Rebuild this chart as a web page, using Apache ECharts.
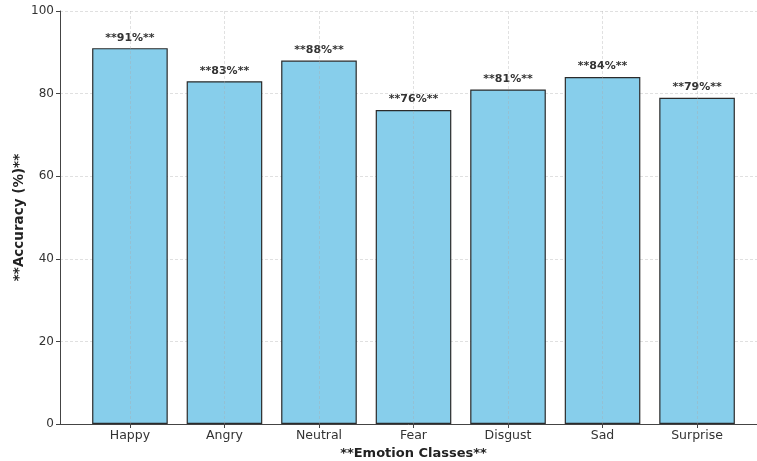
<!DOCTYPE html>
<html>
<head>
<meta charset="utf-8">
<script src="https://cdn.jsdelivr.net/npm/echarts@6/dist/echarts.min.js"></script>
<style>
  html, body { margin: 0; padding: 0; background: #fff; }
  #chart { width: 757px; height: 461px; }
</style>
</head>
<body>
<div id="chart"></div>
<script>
// Per-class recognition accuracy (%)
const categories = ['Happy', 'Angry', 'Neutral', 'Fear', 'Disgust', 'Sad', 'Surprise'];
const accuracy = [91, 83, 88, 76, 81, 84, 79];
const yTicks = [0, 20, 40, 60, 80, 100];

const positions = categories.map((_, i) => i);
const font = 'DejaVu Sans';

const chart = echarts.init(document.getElementById('chart'), null, { renderer: 'canvas' });
chart.setOption({
  animation: false,
  grid: { left: 60, top: 11, width: 707, height: 413, outerBoundsMode: 'none', containLabel: false },
  xAxis: {
    type: 'value',
    min: -0.74,
    max: 6.74,
    name: '**Emotion Classes**',
    nameLocation: 'middle',
    nameGap: 23,
    nameMoveOverlap: false,
    nameTextStyle: { fontFamily: font, fontSize: 13, fontWeight: 'bold', color: '#222' },
    axisLine: { show: true, onZero: false, lineStyle: { color: '#444', width: 1 } },
    axisTick: { show: true, customValues: positions, length: 4, lineStyle: { color: '#444' } },
    axisLabel: {
      customValues: positions,
      formatter: v => categories[Math.round(v)],
      fontFamily: font, fontSize: 12.5, color: '#333', margin: 5
    },
    splitLine: { show: false }
  },
  yAxis: {
    type: 'value',
    min: yTicks[0],
    max: yTicks[yTicks.length - 1],
    interval: yTicks[1] - yTicks[0],
    name: '**Accuracy (%)**',
    nameLocation: 'middle',
    nameGap: 34,
    nameMoveOverlap: false,
    nameTextStyle: { fontFamily: font, fontSize: 13.5, fontWeight: 'bold', color: '#222' },
    axisLine: { show: true, onZero: false, lineStyle: { color: '#444', width: 1 } },
    axisTick: { show: true, length: 4, lineStyle: { color: '#444' } },
    axisLabel: { fontFamily: font, fontSize: 12, color: '#333', margin: 6 },
    splitLine: { show: true, lineStyle: { color: '#d8d8d8', type: [3, 2], width: 0.8 } }
  },
  series: [{
    type: 'bar',
    barWidth: 75.6,
    data: positions.map(i => [i, accuracy[i]]),
    itemStyle: { color: '#87CEEB', borderColor: '#2b2b2b', borderWidth: 1.2 },
    label: {
      show: true,
      position: 'top',
      distance: 5,
      formatter: p => '**' + p.value[1] + '%**',
      fontFamily: font, fontSize: 11, fontWeight: 'bold', color: '#333'
    },
    markLine: {
      silent: true,
      symbol: 'none',
      label: { show: false },
      lineStyle: { color: 'rgba(170,170,170,0.45)', type: [3, 2], width: 0.8 },
      data: positions.map(i => ({ xAxis: i }))
    }
  }]
});
</script>
</body>
</html>
